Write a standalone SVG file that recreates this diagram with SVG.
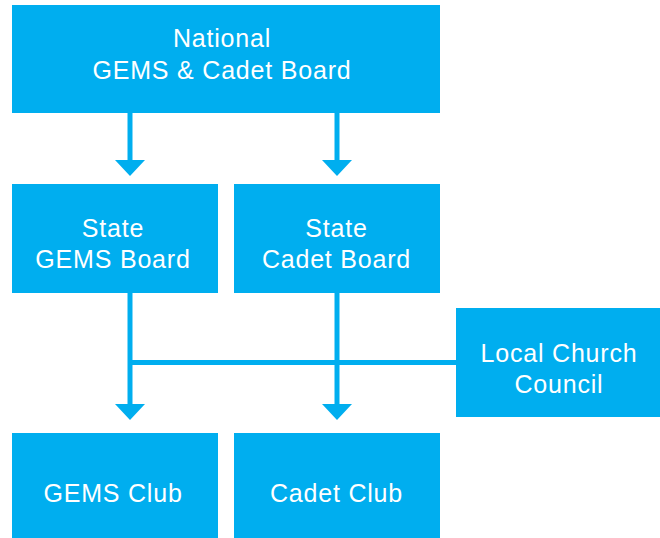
<svg xmlns="http://www.w3.org/2000/svg" width="660" height="538" viewBox="0 0 660 538">
<defs>
<style>
.box{fill:#00AEEF}
.lbl{fill:#ffffff;font-family:"Liberation Sans",Arial,sans-serif;font-size:25px;text-anchor:middle;letter-spacing:0.8px}
.ln{stroke:#00AEEF;stroke-width:5;fill:none}
.hd{fill:#00AEEF}
</style>
</defs>
<rect width="660" height="538" fill="#ffffff"/>
<g id="connectors">
<line class="ln" x1="130" y1="112" x2="130" y2="162"/>
<polygon class="hd" points="115,160 145,160 130,176"/>
<line class="ln" x1="337" y1="112" x2="337" y2="162"/>
<polygon class="hd" points="322,160 352,160 337,176"/>
<line class="ln" x1="130" y1="292" x2="130" y2="406"/>
<polygon class="hd" points="115,404 145,404 130,420"/>
<line class="ln" x1="337" y1="292" x2="337" y2="406"/>
<polygon class="hd" points="322,404 352,404 337,420"/>
<line class="ln" x1="130" y1="362.5" x2="456" y2="362.5"/>
</g>
<g id="national">
<rect class="box" x="12" y="5" width="428" height="108"/>
<text class="lbl" x="222" y="47">National</text>
<text class="lbl" x="222" y="79">GEMS &amp; Cadet Board</text>
</g>
<g id="state-gems">
<rect class="box" x="12" y="184" width="206" height="109"/>
<text class="lbl" x="113" y="237">State</text>
<text class="lbl" x="113" y="268">GEMS Board</text>
</g>
<g id="state-cadet">
<rect class="box" x="234" y="184" width="206" height="109"/>
<text class="lbl" x="336.5" y="237">State</text>
<text class="lbl" x="336.5" y="268">Cadet Board</text>
</g>
<g id="local-church">
<rect class="box" x="456" y="308" width="204" height="109"/>
<text class="lbl" x="559" y="362">Local Church</text>
<text class="lbl" x="559" y="393">Council</text>
</g>
<g id="gems-club">
<rect class="box" x="12" y="433" width="206" height="105"/>
<text class="lbl" x="113" y="502">GEMS Club</text>
</g>
<g id="cadet-club">
<rect class="box" x="234" y="433" width="206" height="105"/>
<text class="lbl" x="336.5" y="502">Cadet Club</text>
</g>
</svg>
